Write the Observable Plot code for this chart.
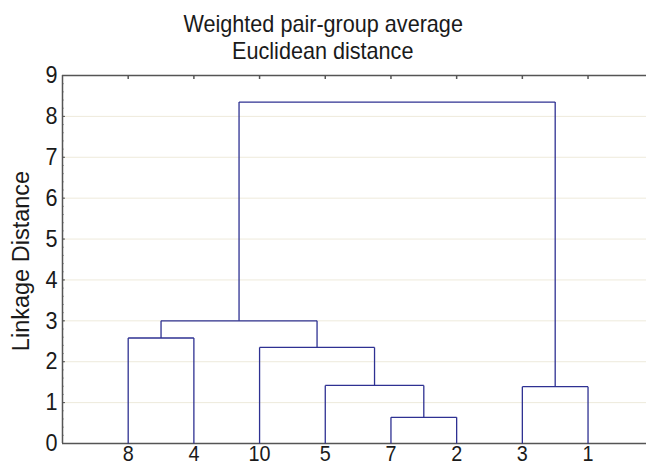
<!DOCTYPE html>
<html>
<head>
<meta charset="utf-8">
<script src="https://cdn.jsdelivr.net/npm/d3@7"></script>
<script src="https://cdn.jsdelivr.net/npm/@observablehq/plot@0.6"></script>
<style>
  html, body { margin: 0; padding: 0; background: #fff; }
  #wrap { position: relative; width: 646px; height: 466px; overflow: hidden; font-family: "Liberation Sans", Arial, sans-serif; color: #1a1a1a; }
  #title { position: absolute; left: 0; top: 0; width: 646px; height: 64px; box-sizing: border-box; padding-top: 10px; text-align: center; font-size: 24px; line-height: 27px; z-index: 2; }
  #title span { display: inline-block; transform: scaleX(0.9); white-space: nowrap; }
  #ylabel { position: absolute; left: 21px; top: 261px; font-size: 23.5px; line-height: 24px; white-space: nowrap; z-index: 2;
            transform: translate(-50%, -50%) rotate(-90deg); }
  svg { display: block; }
</style>
</head>
<body>
<div id="wrap">
  <div id="chart"></div>
  <div id="title"><span>Weighted pair-group average</span><br><span>Euclidean distance</span></div>
  <div id="ylabel">Linkage Distance</div>
</div>
<script>
// Leaf order along the x axis
const leaves = ["8", "4", "10", "5", "7", "2", "3", "1"];
// Merge steps (cluster c1..c7), children and linkage distance
const mergeLeft   = ["7", "3", "5",  "10", "8",  "c5", "c6"];
const mergeRight  = ["2", "1", "c1", "c3", "4",  "c4", "c2"];
const mergeHeight = [0.64, 1.39, 1.42, 2.35, 2.58, 3.00, 8.35];
// Y axis ticks
const yTicks = [0, 1, 2, 3, 4, 5, 6, 7, 8, 9];

// Node positions (leaf order index, height)
const pos = new Map();
leaves.forEach((l, i) => pos.set(l, {x: i + 1, h: 0}));
const segs = [];
mergeLeft.forEach((l, i) => {
  const a = pos.get(l), b = pos.get(mergeRight[i]), h = mergeHeight[i];
  segs.push({x1: a.x, y1: a.h, x2: a.x, y2: h});
  segs.push({x1: a.x, y1: h, x2: b.x, y2: h});
  segs.push({x1: b.x, y1: b.h, x2: b.x, y2: h});
  pos.set("c" + (i + 1), {x: (a.x + b.x) / 2, h});
});

const leafIdx = leaves.map((_, i) => i + 1);
const minor = d3.range(0, 9.001, 0.2);
const axisColor = "#555";

const chart = Plot.plot({
  width: 646,
  height: 466,
  marginTop: 75,
  marginBottom: 23,
  marginLeft: 62,
  marginRight: 0,
  style: {fontFamily: "'Liberation Sans', Arial, sans-serif", fontSize: "24px", color: "#1a1a1a", background: "#fff"},
  x: {domain: [0, 8.89]},
  y: {domain: [0, 9]},
  marks: [
    Plot.gridY(yTicks.slice(1, -1), {stroke: "#eeeadb", strokeOpacity: 1}),
    Plot.axisX(leafIdx, {tickFormat: i => leaves[i - 1], tickSize: 0, tickPadding: 2, fontSize: 22, label: null}),
    Plot.axisX(leafIdx, {anchor: "top", tickFormat: () => "", tickSize: -3, stroke: axisColor, strokeWidth: 1.5, label: null}),
    Plot.axisY(yTicks, {tickSize: 0, tickPadding: 5, label: null}),
    Plot.axisY(yTicks, {tickFormat: () => "", tickSize: -3, stroke: axisColor, label: null}),
    Plot.axisY(minor, {tickFormat: () => "", tickSize: -1.5, stroke: axisColor, label: null}),
    Plot.ruleX([0], {stroke: axisColor, strokeWidth: 1.5}),
    Plot.ruleY([0], {stroke: axisColor, strokeWidth: 1.5}),
    Plot.ruleY([9], {stroke: axisColor, strokeWidth: 1.5}),
    Plot.link(segs, {x1: "x1", y1: "y1", x2: "x2", y2: "y2", stroke: "#2e3192", strokeWidth: 1.3})
  ]
});
// Narrow the glyphs slightly, like the reference's condensed sans
chart.querySelectorAll("text").forEach(t => {
  const tr = t.getAttribute("transform");
  if (tr) t.setAttribute("transform", tr + " scale(0.9,1)");
});
document.getElementById("chart").appendChild(chart);
</script>
</body>
</html>
